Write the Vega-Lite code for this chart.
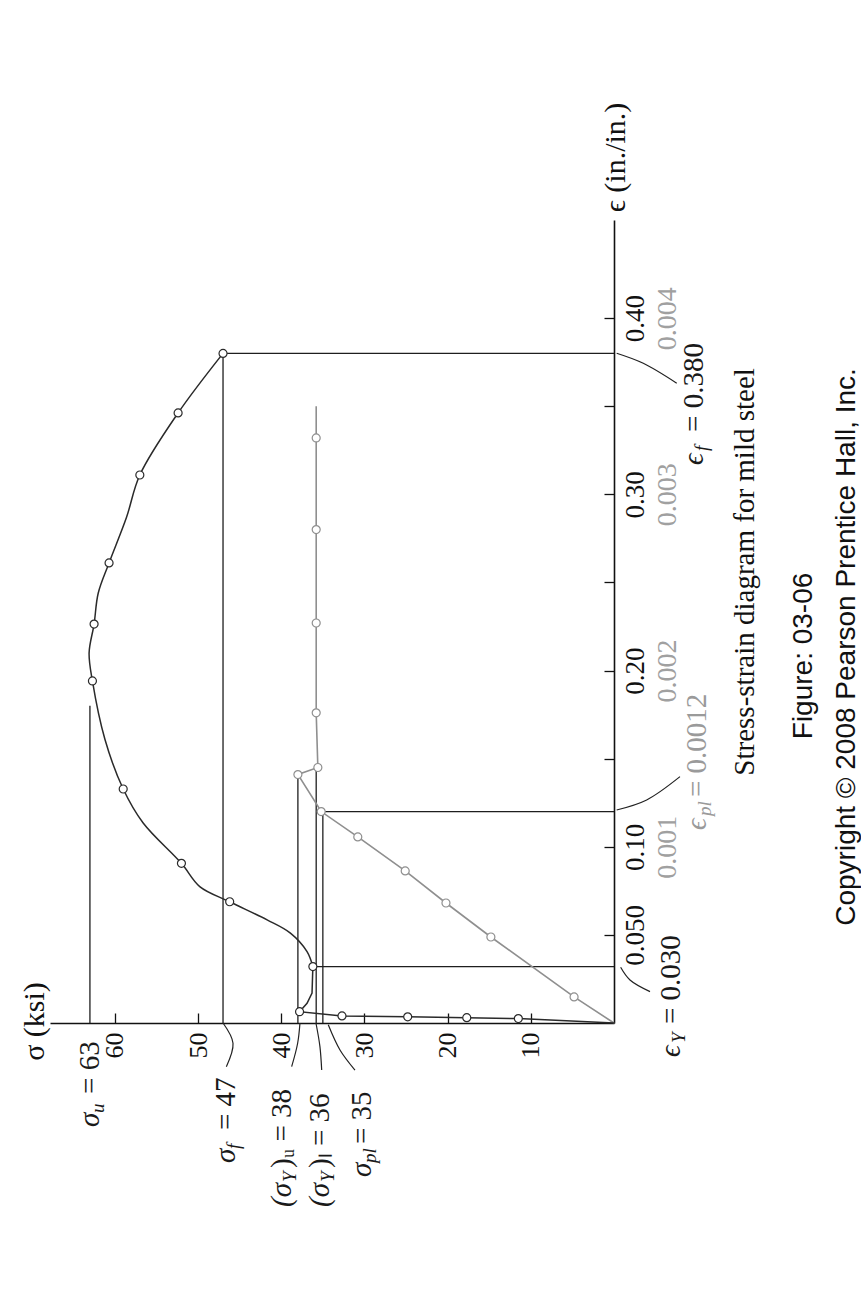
{
  "$schema": "https://vega.github.io/schema/vega-lite/v6.json",
  "width": 564,
  "height": 803,
  "autosize": "none",
  "padding": {"left": 50, "top": 220, "right": 247, "bottom": 285},
  "background": "white",
  "config": {"view": {"stroke": null}, "font": "Liberation Serif"},
  "datasets": {
    "brefs": [
      {"line": "sigma_u", "sig": 63, "sig2": 63, "eps": 0, "eps2": 0.18},
      {"line": "sigma_f", "sig": 47, "sig2": 47, "eps": 0, "eps2": 0.38},
      {"line": "eps_f", "sig": 0, "sig2": 47, "eps": 0.38, "eps2": 0.38},
      {"line": "eps_Y", "sig": 0, "sig2": 36.2, "eps": 0.032, "eps2": 0.032}
    ],
    "grefs": [
      {"line": "sigma_Yu", "sig": 38, "sig2": 38, "epsg": 0, "epsg2": 0.00141},
      {"line": "sigma_Yl", "sig": 35.8, "sig2": 35.8, "epsg": 0, "epsg2": 0.00145},
      {"line": "sigma_pl", "sig": 35, "sig2": 35, "epsg": 0, "epsg2": 0.0012},
      {"line": "eps_pl", "sig": 0, "sig2": 35, "epsg": 0.0012, "epsg2": 0.0012}
    ],
    "bcurve": [
      {"seg": "A", "ord": 0, "sig": 0, "eps": 0, "m": false},
      {"seg": "A", "ord": 1, "sig": 11.5, "eps": 0.0025, "m": true},
      {"seg": "A", "ord": 2, "sig": 17.7, "eps": 0.003, "m": true},
      {"seg": "A", "ord": 3, "sig": 24.8, "eps": 0.0035, "m": true},
      {"seg": "A", "ord": 4, "sig": 32.7, "eps": 0.004, "m": true},
      {"seg": "A", "ord": 5, "sig": 37.8, "eps": 0.0064, "m": true},
      {"seg": "A", "ord": 6, "sig": 36.9, "eps": 0.0112, "m": false},
      {"seg": "A", "ord": 7, "sig": 36.3, "eps": 0.017, "m": false},
      {"seg": "A", "ord": 8, "sig": 36.2, "eps": 0.032, "m": true},
      {"seg": "B", "ord": 8, "sig": 36.2, "eps": 0.032, "m": false},
      {"seg": "B", "ord": 9, "sig": 36.9, "eps": 0.0405, "m": false},
      {"seg": "B", "ord": 10, "sig": 38.9, "eps": 0.051, "m": false},
      {"seg": "B", "ord": 11, "sig": 41.7, "eps": 0.0585, "m": false},
      {"seg": "B", "ord": 12, "sig": 46.2, "eps": 0.0688, "m": true},
      {"seg": "B", "ord": 13, "sig": 49.8, "eps": 0.0774, "m": false},
      {"seg": "B", "ord": 14, "sig": 52.0, "eps": 0.0906, "m": true},
      {"seg": "B", "ord": 15, "sig": 56.6, "eps": 0.1135, "m": false},
      {"seg": "B", "ord": 16, "sig": 59.0, "eps": 0.1328, "m": true},
      {"seg": "B", "ord": 17, "sig": 61.2, "eps": 0.161, "m": false},
      {"seg": "B", "ord": 18, "sig": 62.7, "eps": 0.1941, "m": true},
      {"seg": "B", "ord": 19, "sig": 63.1, "eps": 0.21, "m": false},
      {"seg": "B", "ord": 20, "sig": 62.5, "eps": 0.2264, "m": true},
      {"seg": "B", "ord": 21, "sig": 62.0, "eps": 0.244, "m": false},
      {"seg": "B", "ord": 22, "sig": 60.7, "eps": 0.2611, "m": true},
      {"seg": "B", "ord": 23, "sig": 58.6, "eps": 0.287, "m": false},
      {"seg": "B", "ord": 24, "sig": 57.0, "eps": 0.311, "m": true},
      {"seg": "B", "ord": 25, "sig": 52.4, "eps": 0.3462, "m": true},
      {"seg": "B", "ord": 26, "sig": 47.0, "eps": 0.38, "m": true}
    ],
    "gcurve": [
      {"ord": 0, "sig": 0, "epsg": 0, "m": false},
      {"ord": 1, "sig": 4.8, "epsg": 0.000148, "m": true},
      {"ord": 2, "sig": 14.8, "epsg": 0.000488, "m": true},
      {"ord": 3, "sig": 20.2, "epsg": 0.000681, "m": true},
      {"ord": 4, "sig": 25.1, "epsg": 0.000863, "m": true},
      {"ord": 5, "sig": 30.8, "epsg": 0.001056, "m": true},
      {"ord": 6, "sig": 35.2, "epsg": 0.0012, "m": true},
      {"ord": 7, "sig": 38, "epsg": 0.00141, "m": true},
      {"ord": 8, "sig": 35.6, "epsg": 0.00145, "m": true},
      {"ord": 9, "sig": 35.8, "epsg": 0.00176, "m": true},
      {"ord": 10, "sig": 35.8, "epsg": 0.00227, "m": true},
      {"ord": 11, "sig": 35.8, "epsg": 0.0028, "m": true},
      {"ord": 12, "sig": 35.8, "epsg": 0.00332, "m": true},
      {"ord": 13, "sig": 35.8, "epsg": 0.0035, "m": false}
    ],
    "leaders": [
      {"id": "sf", "ord": 0, "sig": 46.6, "eps": -0.0248},
      {"id": "sf", "ord": 1, "sig": 45.8, "eps": -0.0115},
      {"id": "sf", "ord": 2, "sig": 47.0, "eps": 0},
      {"id": "syu", "ord": 0, "sig": 38.75, "eps": -0.0248},
      {"id": "syu", "ord": 1, "sig": 38.03, "eps": -0.0115},
      {"id": "syu", "ord": 2, "sig": 37.75, "eps": 0},
      {"id": "syl", "ord": 0, "sig": 35.14, "eps": -0.0267},
      {"id": "syl", "ord": 1, "sig": 35.35, "eps": -0.0134},
      {"id": "syl", "ord": 2, "sig": 35.83, "eps": 0},
      {"id": "spl", "ord": 0, "sig": 31.14, "eps": -0.0267},
      {"id": "spl", "ord": 1, "sig": 32.94, "eps": -0.0153},
      {"id": "spl", "ord": 2, "sig": 34.35, "eps": -0.001},
      {"id": "ey", "ord": 0, "sig": -0.8, "eps": 0.0316},
      {"id": "ey", "ord": 1, "sig": -1.92, "eps": 0.0244},
      {"id": "ey", "ord": 2, "sig": -4.33, "eps": 0.0178},
      {"id": "epl", "ord": 0, "sig": -0.32, "eps": 0.1209},
      {"id": "epl", "ord": 1, "sig": -3.93, "eps": 0.1266},
      {"id": "epl", "ord": 2, "sig": -7.93, "eps": 0.1398},
      {"id": "ef", "ord": 0, "sig": -0.32, "eps": 0.3801},
      {"id": "ef", "ord": 1, "sig": -3.52, "eps": 0.3744},
      {"id": "ef", "ord": 2, "sig": -7.54, "eps": 0.3631}
    ],
    "ann": [
      {"kind": "plastic", "head": "σ", "sub": "u", "tail": "= 63", "sig": 63, "eps": -0.059},
      {"kind": "plastic", "head": "σ", "sub": "f", "tail": "= 47", "sig": 46.6, "eps": -0.0795},
      {"kind": "plastic", "head": "σ", "sub": "pl", "tail": "= 35", "sig": 30.3, "eps": -0.0874},
      {"kind": "plastic", "head": "ϵ", "sub": "Y", "tail": "= 0.030", "sig": -6.9, "eps": -0.0193},
      {"kind": "elastic", "head": "ϵ", "sub": "pl", "tail": "= 0.0012", "sig": -10, "eps": 0.1095},
      {"kind": "plastic", "head": "ϵ", "sub": "f", "tail": "= 0.380", "sig": -9.6, "eps": 0.3167}
    ],
    "annY": [
      {"head": "(σ", "sub": "Y", "tail": ")ᵤ = 38", "sig": 39.9, "eps": -0.1044},
      {"head": "(σ", "sub": "Y", "tail": ")ₗ = 36", "sig": 35.3, "eps": -0.1044}
    ],
    "caption": [
      {"text": "Stress-strain diagram for mild steel", "sig": -15.7, "eps": 0.256}
    ],
    "notes": [
      {"text": "Figure: 03-06", "sig": -22.8, "eps": 0.2083},
      {"text": "Copyright © 2008 Pearson Prentice Hall, Inc.", "sig": -28.0, "eps": 0.2134}
    ]
  },
  "layer": [
    {
      "data": {"name": "brefs"},
      "mark": {"type": "rule", "color": "#1e1e1e", "strokeWidth": 1.3},
      "encoding": {
        "x": {
          "field": "sig", "type": "quantitative",
          "scale": {"domain": [0, 67.8], "reverse": true, "nice": false, "zero": false},
          "axis": {
            "values": [10, 20, 30, 40, 50, 60],
            "title": "σ (ksi)",
            "titleAngle": -90, "titleX": -16, "titleY": -2,
            "titleAlign": "center", "titleBaseline": "middle",
            "titleFont": "Liberation Serif", "titleFontSize": 30, "titleFontWeight": "normal", "titleColor": "#111",
            "labelAngle": -90, "labelAlign": "right", "labelBaseline": "middle",
            "labelFont": "Liberation Serif", "labelFontSize": 26, "labelColor": "#111",
            "labelPadding": 19, "labelFlush": false, "labelOverlap": false,
            "tickSize": -10, "tickColor": "#111", "tickWidth": 1.3,
            "domainColor": "#111", "domainWidth": 1.6, "grid": false
          }
        },
        "x2": {"field": "sig2"},
        "y": {
          "field": "eps", "type": "quantitative",
          "scale": {"domain": [0, 0.4557], "nice": false, "zero": false},
          "axis": {
            "orient": "right",
            "values": [0.05, 0.1, 0.15, 0.2, 0.25, 0.3, 0.35, 0.4],
            "labelExpr": "datum.value < 0.06 ? '0.050' : (abs(datum.value * 10 - round(datum.value * 10)) < 0.001 ? format(datum.value, '.2f') : '')",
            "title": "ϵ (in./in.)",
            "titleAngle": -90, "titleX": 1, "titleY": -63,
            "titleAlign": "center", "titleBaseline": "middle",
            "titleFont": "Liberation Serif", "titleFontSize": 30, "titleFontWeight": "normal", "titleColor": "#111",
            "labelAngle": -90, "labelAlign": "center", "labelBaseline": "top",
            "labelFont": "Liberation Serif", "labelFontSize": 27, "labelColor": "#111",
            "labelPadding": 18, "labelFlush": false, "labelOverlap": false,
            "tickSize": -10, "tickColor": "#111", "tickWidth": 1.3,
            "domainColor": "#111", "domainWidth": 1.6, "grid": false
          }
        },
        "y2": {"field": "eps2"}
      }
    },
    {
      "data": {"name": "grefs"},
      "mark": {"type": "rule", "color": "#1e1e1e", "strokeWidth": 1.3},
      "encoding": {
        "x": {"field": "sig", "type": "quantitative", "scale": {"domain": [0, 67.8], "reverse": true, "nice": false, "zero": false}},
        "x2": {"field": "sig2"},
        "y": {
          "field": "epsg", "type": "quantitative",
          "scale": {"domain": [0, 0.004557], "nice": false, "zero": false},
          "axis": {
            "orient": "right",
            "values": [0.001, 0.002, 0.003, 0.004],
            "format": ".3f",
            "title": null,
            "domain": false, "ticks": false, "grid": false,
            "labelAngle": -90, "labelAlign": "center", "labelBaseline": "top",
            "labelFont": "Liberation Serif", "labelFontSize": 28, "labelColor": "#a0a0a0",
            "labelPadding": 39, "labelFlush": false, "labelOverlap": false
          }
        },
        "y2": {"field": "epsg2"}
      }
    },
    {
      "data": {"name": "gcurve"},
      "mark": {"type": "line", "color": "#8f8f8f", "strokeWidth": 1.6},
      "encoding": {
        "x": {"field": "sig", "type": "quantitative", "scale": {"domain": [0, 67.8], "reverse": true, "nice": false, "zero": false}},
        "y": {"field": "epsg", "type": "quantitative", "scale": {"domain": [0, 0.004557], "nice": false, "zero": false}, "axis": null},
        "order": {"field": "ord", "type": "quantitative"}
      }
    },
    {
      "data": {"name": "gcurve"},
      "transform": [{"filter": "datum.m"}],
      "mark": {"type": "point", "shape": "circle", "filled": true, "fill": "white", "stroke": "#8f8f8f", "strokeWidth": 1.2, "size": 64, "opacity": 1},
      "encoding": {
        "x": {"field": "sig", "type": "quantitative", "scale": {"domain": [0, 67.8], "reverse": true, "nice": false, "zero": false}},
        "y": {"field": "epsg", "type": "quantitative", "scale": {"domain": [0, 0.004557], "nice": false, "zero": false}, "axis": null}
      }
    },
    {
      "data": {"name": "bcurve"},
      "transform": [{"filter": "datum.seg === 'A'"}],
      "mark": {"type": "line", "color": "#2a2a2a", "strokeWidth": 1.5},
      "encoding": {
        "x": {"field": "sig", "type": "quantitative", "scale": {"domain": [0, 67.8], "reverse": true, "nice": false, "zero": false}},
        "y": {"field": "eps", "type": "quantitative", "scale": {"domain": [0, 0.4557], "nice": false, "zero": false}, "axis": null},
        "order": {"field": "ord", "type": "quantitative"}
      }
    },
    {
      "data": {"name": "bcurve"},
      "transform": [{"filter": "datum.seg === 'B'"}],
      "mark": {"type": "line", "color": "#2a2a2a", "strokeWidth": 1.5, "interpolate": "catmull-rom"},
      "encoding": {
        "x": {"field": "sig", "type": "quantitative", "scale": {"domain": [0, 67.8], "reverse": true, "nice": false, "zero": false}},
        "y": {"field": "eps", "type": "quantitative", "scale": {"domain": [0, 0.4557], "nice": false, "zero": false}, "axis": null},
        "order": {"field": "ord", "type": "quantitative"}
      }
    },
    {
      "data": {"name": "bcurve"},
      "transform": [{"filter": "datum.m"}],
      "mark": {"type": "point", "shape": "circle", "filled": true, "fill": "white", "stroke": "#2a2a2a", "strokeWidth": 1.2, "size": 64, "opacity": 1},
      "encoding": {
        "x": {"field": "sig", "type": "quantitative", "scale": {"domain": [0, 67.8], "reverse": true, "nice": false, "zero": false}},
        "y": {"field": "eps", "type": "quantitative", "scale": {"domain": [0, 0.4557], "nice": false, "zero": false}, "axis": null}
      }
    },
    {
      "data": {"name": "leaders"},
      "mark": {"type": "line", "color": "#222", "strokeWidth": 1.2, "interpolate": "catmull-rom"},
      "encoding": {
        "x": {"field": "sig", "type": "quantitative", "scale": {"domain": [0, 67.8], "reverse": true, "nice": false, "zero": false}},
        "y": {"field": "eps", "type": "quantitative", "scale": {"domain": [0, 0.4557], "nice": false, "zero": false}, "axis": null},
        "detail": {"field": "id"},
        "order": {"field": "ord", "type": "quantitative"}
      }
    },
    {
      "data": {"name": "ann"},
      "mark": {"type": "text", "angle": -90, "align": "left", "baseline": "middle", "font": "Liberation Serif", "fontSize": 29, "fontStyle": "italic"},
      "encoding": {
        "x": {"field": "sig", "type": "quantitative", "scale": {"domain": [0, 67.8], "reverse": true, "nice": false, "zero": false}},
        "y": {"field": "eps", "type": "quantitative", "scale": {"domain": [0, 0.4557], "nice": false, "zero": false}, "axis": null},
        "text": {"field": "head"},
        "color": {"field": "kind", "type": "nominal", "scale": {"domain": ["plastic", "elastic"], "range": ["#1a1a1a", "#9a9a9a"]}, "legend": null}
      }
    },
    {
      "data": {"name": "ann"},
      "mark": {"type": "text", "angle": -90, "align": "left", "baseline": "middle", "font": "Liberation Serif", "fontSize": 19, "fontStyle": "italic", "dx": 14, "dy": 8},
      "encoding": {
        "x": {"field": "sig", "type": "quantitative", "scale": {"domain": [0, 67.8], "reverse": true, "nice": false, "zero": false}},
        "y": {"field": "eps", "type": "quantitative", "scale": {"domain": [0, 0.4557], "nice": false, "zero": false}, "axis": null},
        "text": {"field": "sub"},
        "color": {"field": "kind", "type": "nominal", "scale": {"domain": ["plastic", "elastic"], "range": ["#1a1a1a", "#9a9a9a"]}, "legend": null}
      }
    },
    {
      "data": {"name": "ann"},
      "mark": {"type": "text", "angle": -90, "align": "left", "baseline": "middle", "font": "Liberation Serif", "fontSize": 29, "dx": 33},
      "encoding": {
        "x": {"field": "sig", "type": "quantitative", "scale": {"domain": [0, 67.8], "reverse": true, "nice": false, "zero": false}},
        "y": {"field": "eps", "type": "quantitative", "scale": {"domain": [0, 0.4557], "nice": false, "zero": false}, "axis": null},
        "text": {"field": "tail"},
        "color": {"field": "kind", "type": "nominal", "scale": {"domain": ["plastic", "elastic"], "range": ["#1a1a1a", "#9a9a9a"]}, "legend": null}
      }
    },
    {
      "data": {"name": "annY"},
      "mark": {"type": "text", "angle": -90, "align": "left", "baseline": "middle", "font": "Liberation Serif", "fontSize": 29, "fontStyle": "italic", "color": "#1a1a1a"},
      "encoding": {
        "x": {"field": "sig", "type": "quantitative", "scale": {"domain": [0, 67.8], "reverse": true, "nice": false, "zero": false}},
        "y": {"field": "eps", "type": "quantitative", "scale": {"domain": [0, 0.4557], "nice": false, "zero": false}, "axis": null},
        "text": {"field": "head"}
      }
    },
    {
      "data": {"name": "annY"},
      "mark": {"type": "text", "angle": -90, "align": "left", "baseline": "middle", "font": "Liberation Serif", "fontSize": 19, "fontStyle": "italic", "dx": 25, "dy": 8, "color": "#1a1a1a"},
      "encoding": {
        "x": {"field": "sig", "type": "quantitative", "scale": {"domain": [0, 67.8], "reverse": true, "nice": false, "zero": false}},
        "y": {"field": "eps", "type": "quantitative", "scale": {"domain": [0, 0.4557], "nice": false, "zero": false}, "axis": null},
        "text": {"field": "sub"}
      }
    },
    {
      "data": {"name": "annY"},
      "mark": {"type": "text", "angle": -90, "align": "left", "baseline": "middle", "font": "Liberation Serif", "fontSize": 29, "dx": 39, "color": "#1a1a1a"},
      "encoding": {
        "x": {"field": "sig", "type": "quantitative", "scale": {"domain": [0, 67.8], "reverse": true, "nice": false, "zero": false}},
        "y": {"field": "eps", "type": "quantitative", "scale": {"domain": [0, 0.4557], "nice": false, "zero": false}, "axis": null},
        "text": {"field": "tail"}
      }
    },
    {
      "data": {"name": "caption"},
      "mark": {"type": "text", "angle": -90, "align": "center", "baseline": "middle", "font": "Liberation Serif", "fontSize": 29, "color": "#111"},
      "encoding": {
        "x": {"field": "sig", "type": "quantitative", "scale": {"domain": [0, 67.8], "reverse": true, "nice": false, "zero": false}},
        "y": {"field": "eps", "type": "quantitative", "scale": {"domain": [0, 0.4557], "nice": false, "zero": false}, "axis": null},
        "text": {"field": "text"}
      }
    },
    {
      "data": {"name": "notes"},
      "mark": {"type": "text", "angle": -90, "align": "center", "baseline": "middle", "font": "Liberation Sans", "fontSize": 28, "color": "#111"},
      "encoding": {
        "x": {"field": "sig", "type": "quantitative", "scale": {"domain": [0, 67.8], "reverse": true, "nice": false, "zero": false}},
        "y": {"field": "eps", "type": "quantitative", "scale": {"domain": [0, 0.4557], "nice": false, "zero": false}, "axis": null},
        "text": {"field": "text"}
      }
    }
  ],
  "resolve": {"scale": {"y": "independent"}, "axis": {"y": "independent"}}
}
